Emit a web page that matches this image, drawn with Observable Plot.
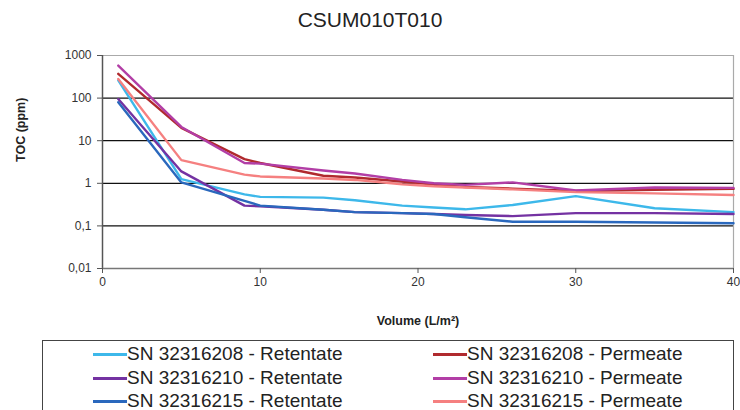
<!DOCTYPE html>
<html>
<head>
<meta charset="utf-8">
<script src="https://cdn.jsdelivr.net/npm/d3@7"></script>
<script src="https://cdn.jsdelivr.net/npm/@observablehq/plot@0.6"></script>
<style>
  html, body { margin: 0; padding: 0; background: #fff; }
  #wrap { position: relative; width: 740px; height: 410px; overflow: hidden; font-family: "Liberation Sans", Arial, sans-serif; }
  #title { position: absolute; left: 0; top: 8px; width: 740px; text-align: center; font-size: 21px; color: #222; }
  #chart { position: absolute; left: 0; top: 40px; }
  #legend { position: absolute; left: 42px; top: 340px; width: 692px; height: 90px; border: 1px solid #444; box-sizing: border-box; }
  .item { position: absolute; height: 22px; display: flex; align-items: center; font-size: 19px; color: #222; white-space: nowrap; }
  .swatch { width: 34px; height: 0; border-top: 3px solid; margin-right: 0px; }
</style>
</head>
<body>
<div id="wrap">
  <div id="title">CSUM010T010</div>
  <div id="chart"></div>
  <div id="legend"></div>
</div>
<script>
// Data
const volume = [1, 5, 9, 10, 14, 16, 19, 21, 23, 26, 30, 35, 40];

const seriesNames = [
  "SN 32316208 - Retentate",
  "SN 32316208 - Permeate",
  "SN 32316210 - Retentate",
  "SN 32316210 - Permeate",
  "SN 32316215 - Retentate",
  "SN 32316215 - Permeate"
];
const seriesColors = ["#3db8ea", "#b02a2e", "#7432a2", "#b23ea6", "#2a68bd", "#f58080"];

const toc208Ret  = [260, 1.25, 0.55, 0.48, 0.46, 0.40, 0.30, 0.27, 0.245, 0.31, 0.50, 0.26, 0.21];
const toc208Perm = [370, 20, 3.7, 3.0, 1.5, 1.37, 1.1, 0.93, 0.82, 0.75, 0.66, 0.70, 0.74];
const toc210Ret  = [95, 1.9, 0.30, 0.29, 0.24, 0.21, 0.20, 0.19, 0.18, 0.17, 0.20, 0.20, 0.19];
const toc210Perm = [580, 21, 3.0, 2.9, 2.0, 1.7, 1.2, 1.0, 0.92, 1.05, 0.68, 0.80, 0.78];
const toc215Ret  = [80, 1.05, 0.385, 0.30, 0.24, 0.21, 0.20, 0.19, 0.16, 0.125, 0.125, 0.12, 0.115];
const toc215Perm = [280, 3.5, 1.6, 1.45, 1.3, 1.2, 0.95, 0.85, 0.80, 0.72, 0.62, 0.58, 0.53];

const seriesValues = [toc208Ret, toc208Perm, toc210Ret, toc210Perm, toc215Ret, toc215Perm];

const yTicks = [0.01, 0.1, 1, 10, 100, 1000];
const yTickLabels = ["0,01", "0,1", "1", "10", "100", "1000"];
const xTicks = [0, 10, 20, 30, 40];
const gridValues = [0.1, 1, 10, 100];

const data = [];
seriesNames.forEach((name, i) => {
  seriesValues[i].forEach((v, j) => data.push({series: name, volume: volume[j], toc: v}));
});

const chart = Plot.plot({
  width: 740,
  height: 300,
  marginLeft: 102,
  marginRight: 7,
  marginTop: 15,
  marginBottom: 72,
  style: {fontFamily: "'Liberation Sans', Arial, sans-serif", fontSize: "12px", color: "#222", background: "white"},
  x: {domain: [0, 40], label: null},
  y: {type: "log", domain: [0.01, 1000], label: null},
  color: {domain: seriesNames, range: seriesColors},
  marks: [
    Plot.ruleY(gridValues, {stroke: "#111", strokeWidth: 1.2}),
    Plot.ruleY([1000], {stroke: "#aaa", strokeWidth: 1.2}),
    Plot.ruleX([40], {stroke: "#aaa", strokeWidth: 1.2}),
    Plot.line(data, {x: "volume", y: "toc", z: "series", stroke: "series", strokeWidth: 2.4, strokeLinejoin: "round"}),
    Plot.ruleX([0], {stroke: "#555", strokeWidth: 1.5}),
    Plot.ruleY([0.01], {stroke: "#777", strokeWidth: 1.5}),
    Plot.axisY({ticks: yTicks, tickFormat: d => yTickLabels[yTicks.indexOf(d)], tickSize: 5, tickPadding: 6, stroke: "#555", label: null, fill: "#333"}),
    Plot.axisX({ticks: xTicks, tickSize: 5, tickPadding: 4, stroke: "#555", label: null, fill: "#333"}),
    Plot.text(["TOC (ppm)"], {frameAnchor: "left", dx: -82, rotate: -90, fontWeight: "bold", fontSize: 12.5, fill: "#222"}),
    Plot.text(["Volume (L/m²)"], {frameAnchor: "bottom", dy: 56, fontWeight: "bold", fontSize: 12.5, fill: "#222"})
  ]
});
document.getElementById("chart").appendChild(chart);

// Legend
const legend = document.getElementById("legend");
const rowTops = [2, 26, 49];
const colLefts = [50, 390];
seriesNames.forEach((name, i) => {
  const col = i % 2, row = Math.floor(i / 2);
  const item = document.createElement("div");
  item.className = "item";
  item.style.left = colLefts[col] + "px";
  item.style.top = rowTops[row] + "px";
  const sw = document.createElement("span");
  sw.className = "swatch";
  sw.style.borderTopColor = seriesColors[i];
  const tx = document.createElement("span");
  tx.textContent = name;
  item.appendChild(sw);
  item.appendChild(tx);
  legend.appendChild(item);
});
</script>
</body>
</html>
